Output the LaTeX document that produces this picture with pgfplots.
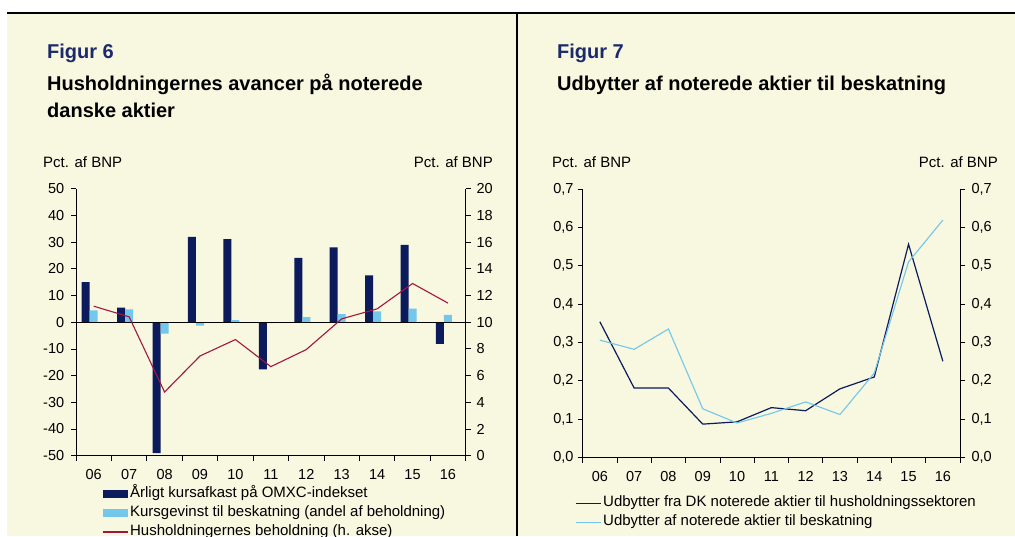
\documentclass[border=0pt]{standalone}
\usepackage{fontspec}
\setmainfont{Liberation Sans}
\usepackage{pgfplots}
\pgfplotsset{compat=1.18}
\definecolor{bg}{HTML}{F8F7E0}
\definecolor{navy}{HTML}{0B1B5B}
\definecolor{lblue}{HTML}{72C7EA}
\definecolor{wine}{HTML}{A3163F}
\definecolor{figblue}{HTML}{1B2A6B}
\pgfplotsset{
  base/.style={scale only axis,
    axis line style={black, line width=0.9pt},
    major tick style={black, line width=0.8pt},
    major tick length=5pt, tick align=outside,
    /pgf/number format/assume math mode=true,
    ticklabel style={font=\fontsize{14.5}{17}\selectfont},
    xticklabel style={yshift=-5pt},
    legend style={font=\fontsize{15}{18}\selectfont},
    xmin=-0.5, xmax=10.5,
    xtick={-0.5,0.5,1.5,2.5,3.5,4.5,5.5,6.5,7.5,8.5,9.5,10.5},
    x tick label as interval,
    xticklabels={06,07,08,09,10,11,12,13,14,15,16},
  },
  leg/.style={legend cell align=left,
    legend style={draw=none, fill=none, inner sep=0pt, outer sep=0pt, row sep=0pt,
      nodes={inner sep=2pt, text height=11pt, text depth=4pt}}},
}
\tikzset{tt/.style={anchor=base west, inner sep=0pt, font=\fontsize{20}{24}\selectfont\bfseries},
  sm/.style={inner sep=0pt, font=\fontsize{15}{18}\selectfont}}
\begin{document}
\begin{tikzpicture}[x=1pt,y=1pt]
\useasboundingbox (0,0) rectangle (1015,536);
\fill[white] (0,0) rectangle (1015,536);
\fill[bg] (7,0) rectangle (1015,523);
\draw[line width=1.6pt] (7,523) -- (1015,523);
\draw[line width=1.2pt] (517,0) -- (517,523);
% left panel texts
\node[tt, text=figblue] at (47,477) {Figur 6};
\node[tt] at (47,445.3) {Husholdningernes avancer på noterede};
\node[tt] at (47,418.3) {danske aktier};
\node[sm, anchor=base west] at (43,368) {Pct. af BNP};
\node[sm, anchor=base east] at (493,368) {Pct. af BNP};
% right panel texts
\node[tt, text=figblue] at (557,477) {Figur 7};
\node[tt] at (557,445.3) {Udbytter af noterede aktier til beskatning};
\node[sm, anchor=base west] at (552,368) {Pct. af BNP};
\node[sm, anchor=base east] at (998,368) {Pct. af BNP};

% ---- Figur 6 ----
\begin{axis}[base, leg, at={(76pt,80.3pt)}, anchor=south west, width=389.7pt, height=267pt,
  ymin=-50, ymax=50, ytick={-50,-40,...,50},
  yticklabel style={xshift=-3.3pt},
  axis x line*=bottom, axis y line*=left,
  legend style={at={(0.0667,-0.108)}, anchor=north west},
  legend image code/.code={\fill (0pt,-4pt) rectangle (25pt,4pt);}]
\addplot[ybar, bar width=0.226, bar shift=-0.226, fill=navy, draw=none] coordinates {
 (0,15) (1,5.5) (2,-49) (3,32) (4,31.1) (5,-17.7) (6,24.1) (7,28) (8,17.5) (9,29) (10,-8.1)};
\addlegendentry{Årligt kursafkast på OMXC-indekset}
\addplot[ybar, bar width=0.226, bar shift=0, fill=lblue, draw=none] coordinates {
 (0,4.4) (1,4.8) (2,-4.3) (3,-1.3) (4,0.8) (5,-0.3) (6,1.9) (7,3.0) (8,4.1) (9,5.1) (10,2.7)};
\addlegendentry{Kursgevinst til beskatning (andel af beholdning)}
\addlegendimage{legend image code/.code={\draw[wine, line width=1.1pt] (0pt,0pt) -- (25pt,0pt);}}
\addlegendentry{Husholdningernes beholdning (h. akse)}
\draw[black, line width=0.9pt] (axis cs:-0.5,0) -- (axis cs:10.5,0);
\end{axis}
\begin{axis}[base, at={(76pt,80.3pt)}, anchor=south west, width=389.7pt, height=267pt,
  ymin=0, ymax=20, ytick={0,2,...,20},
  yticklabel style={xshift=2.3pt},
  axis x line=none, axis y line*=right]
\addplot[wine, line width=1.1pt] coordinates {
 (0,11.2) (1,10.4) (2,4.77) (3,7.47) (4,8.7) (5,6.67) (6,7.95) (7,10.25) (8,11.0) (9,12.9) (10,11.43)};
\end{axis}

% ---- Figur 7 ----
\begin{axis}[base, leg, at={(582.7pt,78.5pt)}, anchor=south west, width=377.3pt, height=268.5pt,
  ymin=0, ymax=0.7, ytick={0,0.1,...,0.7},
  yticklabel style={xshift=-0.7pt, /pgf/number format/.cd, fixed, fixed zerofill, precision=1, use comma},
  axis x line*=bottom, axis y line*=left,
  legend style={at={(-0.0204,-0.135)}, anchor=north west},
  legend image code/.code={\draw (0pt,0pt) -- (25pt,0pt);}]
\addplot[navy, line width=1.2pt] coordinates {
 (0,0.354) (1,0.181) (2,0.181) (3,0.087) (4,0.093) (5,0.130) (6,0.122) (7,0.179) (8,0.21) (9,0.556) (10,0.251)};
\addlegendentry{Udbytter fra DK noterede aktier til husholdningssektoren}
\addplot[lblue, line width=1.1pt] coordinates {
 (0,0.306) (1,0.282) (2,0.335) (3,0.127) (4,0.09) (5,0.115) (6,0.145) (7,0.112) (8,0.22) (9,0.51) (10,0.619)};
\addlegendentry{Udbytter af noterede aktier til beskatning}
\end{axis}
\begin{axis}[base, at={(582.7pt,78.5pt)}, anchor=south west, width=377.3pt, height=268.5pt,
  ymin=0, ymax=0.7, ytick={0,0.1,...,0.7},
  yticklabel style={xshift=3pt, /pgf/number format/.cd, fixed, fixed zerofill, precision=1, use comma},
  axis x line=none, axis y line*=right]
\end{axis}
\end{tikzpicture}
\end{document}
